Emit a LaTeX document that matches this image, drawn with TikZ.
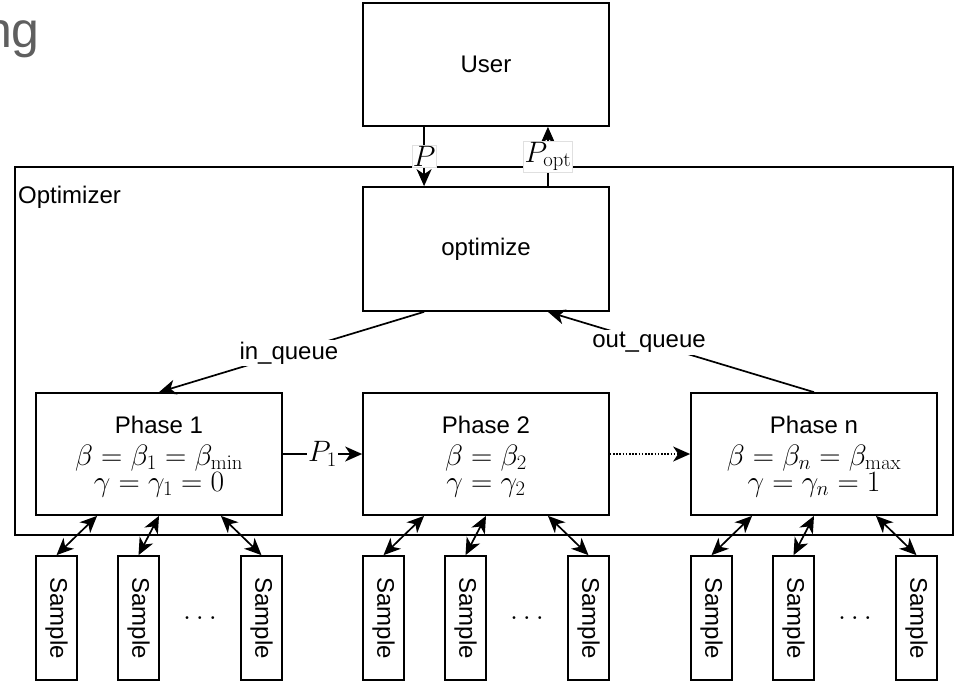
\RequirePackage{fix-cm}
\documentclass[tikz,border=0pt]{standalone}
\usepackage[no-math]{fontspec}
\setmainfont{Liberation Sans}
\usetikzlibrary{arrows.meta,calc}
\definecolor{nggray}{HTML}{5F5F5F}
\begin{document}
\begin{tikzpicture}[x=1pt,y=-1pt,
  box/.style={draw, line width=1.7pt, inner sep=0pt},
  tip/.tip={Stealth[length=17pt,width=15pt,inset=5pt]},
  arr/.style={line width=1.7pt, -tip},
  darr/.style={line width=1.7pt, tip-tip},
  txt/.style={font=\fontsize{24}{28}\selectfont},
  mth/.style={font=\fontsize{29.5}{32}\selectfont},
  lbl/.style={fill=white, draw=black!12, line width=0.5pt, inner sep=1pt, font=\fontsize{29.5}{32}\selectfont},
  qlbl/.style={fill=white, inner sep=2pt, font=\fontsize{24}{28}\selectfont},
  phasebox/.style={box, minimum width=246pt, minimum height=122pt},
  samplebox/.style={box, minimum width=41pt, minimum height=124pt},
]
\useasboundingbox (0,0) rectangle (956,681);

% partial title text
\node[anchor=base east, text=nggray, font=\fontsize{50}{54}\selectfont, inner sep=0pt] (ng) at (40,47) {ng};

% outer optimizer frame
\node[box, minimum width=938pt, minimum height=368pt] (frame) at (484,351) {};
\node[anchor=base west, txt, inner sep=0pt] (frametitle) at (18,203) {Optimizer};

% user and optimize
\node[box, minimum width=246pt, minimum height=123pt, txt] (user) at (486,64.5) {User};
\node[box, minimum width=246pt, minimum height=124pt, txt] (optim) at (486,249) {optimize};

% phases
\node[phasebox] (p1) at (159,454) {};
\node[phasebox] (p2) at (486,454) {};
\node[phasebox] (pn) at (814,454) {};

\node[anchor=base, txt, inner sep=0pt] (p1a) at (159,433) {Phase 1};
\node[anchor=base, mth, inner sep=0pt] (p1b) at (159,465) {$\beta=\beta_1=\beta_{\min}$};
\node[anchor=base, mth, inner sep=0pt] (p1c) at (159,491) {$\gamma=\gamma_1=0$};

\node[anchor=base, txt, inner sep=0pt] (p2a) at (486,433) {Phase 2};
\node[anchor=base, mth, inner sep=0pt] (p2b) at (486,465) {$\beta=\beta_2$};
\node[anchor=base, mth, inner sep=0pt] (p2c) at (486,491) {$\gamma=\gamma_2$};

\node[anchor=base, txt, inner sep=0pt] (pna) at (814,433) {Phase n};
\node[anchor=base, mth, inner sep=0pt] (pnb) at (814,465) {$\beta=\beta_n=\beta_{\max}$};
\node[anchor=base, mth, inner sep=0pt] (pnc) at (814,491) {$\gamma=\gamma_n=1$};

% user <-> optimize
\coordinate (uA) at ($(user.south west)!0.25!(user.south east)$);
\coordinate (uB) at ($(user.south west)!0.75!(user.south east)$);
\coordinate (oA) at ($(optim.north west)!0.25!(optim.north east)$);
\coordinate (oB) at ($(optim.north west)!0.75!(optim.north east)$);
\draw[arr] (uA) -- node[lbl] (lp) {$P$} (oA);
\draw[arr] (oB) -- node[lbl] (lpopt) {$P_{\mathrm{opt}}$} (uB);

% queues
\coordinate (oC) at ($(optim.south west)!0.25!(optim.south east)$);
\coordinate (oD) at ($(optim.south west)!0.75!(optim.south east)$);
\draw[arr] (oC) -- node[qlbl, pos=0.51] (inq) {in\_queue} (p1.north);
\draw[arr] (pn.north) -- node[qlbl, pos=0.62] (outq) {out\_queue} (oD);

% phase chain
\draw[arr] (p1.east) -- node[fill=white, inner sep=1pt, mth] (lp1) {$P_1$} (p2.west);
\draw[arr, dash pattern=on 1.6pt off 1.6pt] (p2.east) -- (pn.west);

% samples
\foreach \g/\L/\C/\R/\D in {1/56.5/138.5/261.5/200, 2/383.5/465.5/588.5/527, 3/711.5/793.5/916.5/855} {
  \node[samplebox] (s\g a) at (\L,618) {};
  \node[samplebox] (s\g b) at (\C,618) {};
  \node[samplebox] (s\g c) at (\R,618) {};
  \node[txt, rotate=-90] (t\g a) at (s\g a) {Sample};
  \node[txt, rotate=-90] (t\g b) at (s\g b) {Sample};
  \node[txt, rotate=-90] (t\g c) at (s\g c) {Sample};
  \node[mth, inner sep=0pt] (d\g) at (\D,618) {$\dots$};
}
\foreach \g/\p in {1/p1, 2/p2, 3/pn} {
  \draw[darr] ($(\p.south west)!0.25!(\p.south east)$) -- (s\g a.north);
  \draw[darr] (\p.south) -- (s\g b.north);
  \draw[darr] ($(\p.south west)!0.75!(\p.south east)$) -- (s\g c.north);
}
\end{tikzpicture}
\end{document}
